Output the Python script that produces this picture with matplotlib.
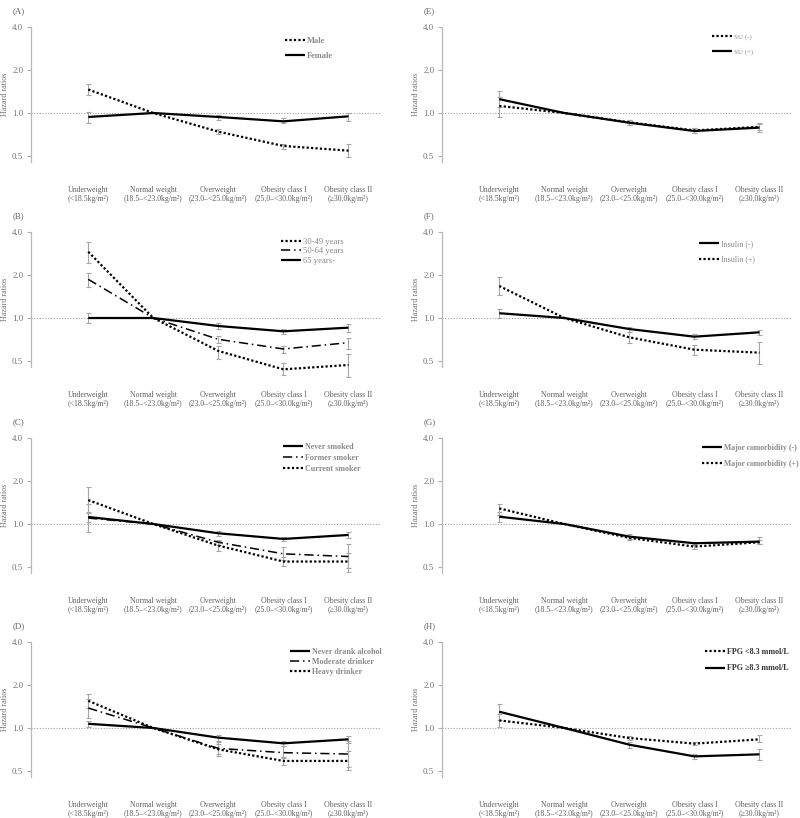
import matplotlib
matplotlib.use('Agg')
import matplotlib.pyplot as plt
import numpy as np

plt.rcParams['font.family'] = ['Liberation Serif', 'DejaVu Serif']

nan = np.nan
categories = ["Underweight\n(<18.5kg/m²)", "Normal weight\n(18.5–<23.0kg/m²)",
              "Overweight\n(23.0–<25.0kg/m²)", "Obesity class I\n(25.0–<30.0kg/m²)",
              "Obesity class II\n(≥30.0kg/m²)"]
y_ticks = [0.5, 1.0, 2.0, 4.0]
y_tick_labels = ["0.5", "1.0", "2.0", "4.0"]

# Panel A: sex
A_labels = ["Male", "Female"]
A_hr = [[1.46, 1.0, 0.74, 0.588, 0.545], [0.938, 1.0, 0.938, 0.874, 0.948]]
A_lo = [[1.34, nan, 0.713, 0.563, 0.494], [0.847, nan, 0.893, 0.847, 0.884]]
A_hi = [[1.59, nan, 0.769, 0.607, 0.607], [1.016, nan, 0.963, 0.918, 0.995]]

# Panel B: age
B_labels = ["30-49 years", "50-64 years", "65 years-"]
B_hr = [[2.91, 1.0, 0.588, 0.437, 0.469], [1.865, 1.0, 0.709, 0.607, 0.672], [1.0, 1.0, 0.879, 0.807, 0.856]]
B_lo = [[2.44, nan, 0.514, 0.397, 0.385], [1.66, nan, 0.665, 0.572, 0.61], [0.918, nan, 0.842, 0.777, 0.802]]
B_hi = [[3.42, nan, 0.64, 0.484, 0.557], [2.05, nan, 0.748, 0.637, 0.724], [1.078, nan, 0.918, 0.833, 0.903]]

# Panel C: smoking
C_labels = ["Never smoked", "Former smoker", "Current smoker"]
C_hr = [[1.12, 1.0, 0.861, 0.786, 0.838], [1.10, 1.0, 0.745, 0.618, 0.592], [1.47, 1.0, 0.706, 0.546, 0.546]]
C_lo = [[1.04, nan, 0.825, 0.765, 0.803], [0.88, nan, 0.715, 0.561, 0.49], [1.22, nan, 0.652, 0.512, 0.46]]
C_hi = [[1.20, nan, 0.894, 0.807, 0.88], [1.37, nan, 0.775, 0.688, 0.72], [1.82, nan, 0.765, 0.592, 0.624]]

# Panel D: alcohol
D_labels = ["Never drank alcohol", "Moderate drinker", "Heavy drinker"]
D_hr = [[1.07, 1.0, 0.856, 0.781, 0.833], [1.38, 1.0, 0.72, 0.672, 0.657], [1.55, 1.0, 0.709, 0.588, 0.588]]
D_lo = [[1.02, nan, 0.815, 0.751, 0.789], [1.18, nan, 0.656, 0.616, 0.535], [1.38, nan, 0.639, 0.55, 0.507]]
D_hi = [[1.12, nan, 0.898, 0.806, 0.878], [1.60, nan, 0.793, 0.802, 0.81], [1.73, nan, 0.768, 0.629, 0.693]]

# Panel E: SU
E_labels = ["SU (-)", "SU (+)"]
E_hr = [[1.12, 1.0, 0.86, 0.755, 0.80], [1.25, 1.0, 0.855, 0.748, 0.79]]
E_lo = [[0.94, nan, 0.825, 0.73, 0.755], [1.10, nan, 0.82, 0.72, 0.74]]
E_hi = [[1.30, nan, 0.895, 0.78, 0.85], [1.43, nan, 0.89, 0.79, 0.84]]

# Panel F: insulin
F_labels = ["Insulin (-)", "Insulin (+)"]
F_hr = [[1.08, 1.0, 0.837, 0.74, 0.794], [1.675, 1.0, 0.732, 0.60, 0.572]]
F_lo = [[1.0, nan, 0.798, 0.709, 0.764], [1.45, nan, 0.665, 0.548, 0.474]]
F_hi = [[1.16, nan, 0.865, 0.769, 0.829], [1.95, nan, 0.798, 0.65, 0.683]]

# Panel G: major comorbidity
G_labels = ["Major comorbidity (-)", "Major comorbidity (+)"]
G_hr = [[1.125, 1.0, 0.816, 0.733, 0.753], [1.286, 1.0, 0.799, 0.695, 0.745]]
G_lo = [[1.03, nan, 0.786, 0.71, 0.721], [1.15, nan, 0.77, 0.67, 0.72]]
G_hi = [[1.22, nan, 0.852, 0.753, 0.807], [1.39, nan, 0.83, 0.73, 0.77]]

# Panel H: FPG
H_labels = ["FPG <8.3 mmol/L", "FPG ≥8.3 mmol/L"]
H_hr = [[1.13, 1.0, 0.851, 0.777, 0.833], [1.30, 1.0, 0.764, 0.633, 0.654]]
H_lo = [[1.02, nan, 0.819, 0.755, 0.793], [1.14, nan, 0.727, 0.605, 0.593]]
H_hi = [[1.25, nan, 0.884, 0.801, 0.888], [1.47, nan, 0.797, 0.66, 0.712]]

# ---------------- styling ----------------
W, H = 800, 818
fig = plt.figure(figsize=(W / 100, H / 100), dpi=100)

SOLID = dict(linestyle='-', linewidth=1.6)
DOT = dict(linestyle=(0, (1.0, 1.0)), linewidth=1.6)
DASHDOT = dict(linestyle=(0, (6, 2.5, 1, 2.5)), linewidth=1.1)

panels = [
    ("(A)", A_labels, A_hr, A_lo, A_hi, [DOT, SOLID], 0, 0,
     dict(x=285, y=42, sp=17, fs=6.0, bold=True, color='#8a8a8a')),
    ("(B)", B_labels, B_hr, B_lo, B_hi, [DOT, DASHDOT, SOLID], 0, 1,
     dict(x=281, y=243, sp=12, fs=6.2, bold=False, color='#8a8a8a')),
    ("(C)", C_labels, C_hr, C_lo, C_hi, [SOLID, DASHDOT, DOT], 0, 2,
     dict(x=283, y=448, sp=12.5, fs=5.8, bold=True, color='#8a8a8a')),
    ("(D)", D_labels, D_hr, D_lo, D_hi, [SOLID, DASHDOT, DOT], 0, 3,
     dict(x=290, y=653, sp=11.5, fs=5.8, bold=True, color='#8a8a8a')),
    ("(E)", E_labels, E_hr, E_lo, E_hi, [DOT, SOLID], 1, 0,
     dict(x=712, y=38, sp=17, fs=5.0, bold=False, color='#8a8a8a')),
    ("(F)", F_labels, F_hr, F_lo, F_hi, [SOLID, DOT], 1, 1,
     dict(x=699, y=245, sp=17, fs=5.8, bold=False, color='#8a8a8a')),
    ("(G)", G_labels, G_hr, G_lo, G_hi, [SOLID, DOT], 1, 2,
     dict(x=702, y=449, sp=17, fs=5.6, bold=True, color='#8a8a8a')),
    ("(H)", H_labels, H_hr, H_lo, H_hi, [DOT, SOLID], 1, 3,
     dict(x=705, y=653, sp=18, fs=5.8, bold=True, color='#333333')),
]

col_x0 = [31, 442]
ax_w = 350
row_top = [27, 232, 438, 642]
ax_h = 135
xlim = (-0.88, 4.5)
ymax = 4.0
ymin = 0.5 * 2 ** (-6 / 43)

x = np.arange(len(categories))

for (tag, labels, hrs, los, his, styles, col, row, leg) in panels:
    x0 = col_x0[col]
    top = row_top[row]
    ax = fig.add_axes([x0 / W, 1 - (top + ax_h) / H, ax_w / W, ax_h / H])
    ax.set_yscale('log', base=2)
    ax.set_ylim(ymin, ymax)
    ax.set_xlim(*xlim)
    ax.axhline(1.0, color='#a0a0a0', linestyle=(0, (1, 1.5)), linewidth=0.8, zorder=1)
    handles = []
    for lab, hr, lo, hi, st in zip(labels, hrs, los, his, styles):
        hr = np.array(hr, dtype=float)
        lo = np.array(lo, dtype=float)
        hi = np.array(hi, dtype=float)
        yerr = np.vstack([hr - lo, hi - hr])
        eb = ax.errorbar(x, hr, yerr=yerr, fmt='none', ecolor='#a6a6a6', elinewidth=0.8,
                         capsize=1.8, capthick=0.8, zorder=2)
        for art in eb.lines[1] + eb.lines[2]:
            art.set_clip_on(False)
        for art in eb.lines[2]:
            art.set_clip_on(False)
        ln, = ax.plot(x, hr, color='black', zorder=3, label=lab, clip_on=False,
                      dash_capstyle='butt', solid_capstyle='butt', **st)
        handles.append(ln)

    ax.set_yticks(y_ticks)
    ax.set_yticklabels(y_tick_labels)
    ax.yaxis.set_minor_locator(matplotlib.ticker.NullLocator())
    ax.tick_params(axis='y', which='major', length=3, width=0.8, color='#b0b0b0',
                   labelsize=6.3, labelcolor='#707070', pad=2.5)
    ax.set_xticks(x)
    ax.set_xticklabels(categories)
    ax.tick_params(axis='x', length=0, labelsize=5.6, labelcolor='#606060', pad=17.5)
    for t in ax.get_xticklabels():
        t.set_linespacing(1.05)
    for s in ['top', 'right', 'bottom']:
        ax.spines[s].set_visible(False)
    ax.spines['left'].set_color('#b8b8b8')
    ax.spines['left'].set_linewidth(0.9)
    ax.patch.set_alpha(0)

    fig.text((x0 - 18) / W, 1 - (top - 16) / H, tag, fontsize=6.3, color='#606060',
             ha='left', va='center')
    fig.text((x0 - 26) / W, 1 - (top + ax_h / 2) / H, "Hazard ratios", fontsize=5.8,
             color='#707070', rotation=90, ha='center', va='center')

    fs = leg['fs']
    fs_px = fs * 100 / 72
    lsp = max((leg['sp'] - fs_px * 1.2) / fs_px, 0.05)
    bx = (leg['x'] - x0) / ax_w
    by = (top + ax_h - (leg['y'] - fs_px * 0.62)) / ax_h
    lg = ax.legend(handles=handles, loc='upper left', bbox_to_anchor=(bx, by),
                   frameon=False, borderpad=0, borderaxespad=0,
                   handlelength=20 / fs_px,
                   handletextpad=0.25, labelspacing=lsp,
                   prop=dict(size=fs, weight='bold' if leg['bold'] else 'normal'))
    for t in lg.get_texts():
        t.set_color(leg['color'])

fig.savefig('out.png', dpi=100)
